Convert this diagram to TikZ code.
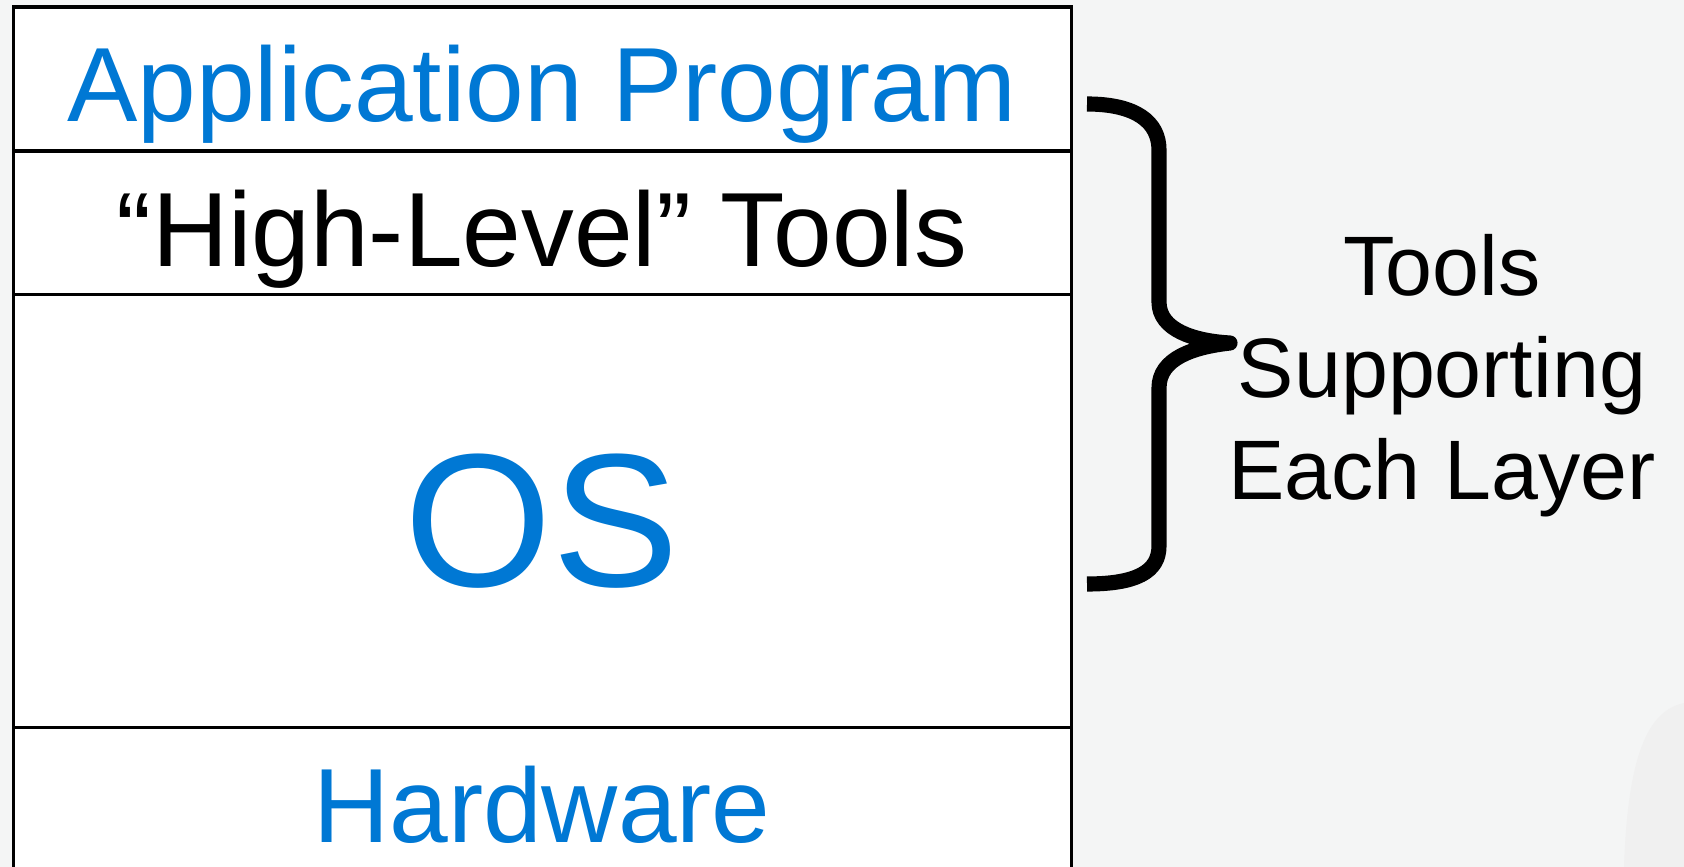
\documentclass[tikz,border=0pt]{standalone}
\usepackage{fontspec}
\setmainfont{Liberation Sans}
\usetikzlibrary{positioning}
\definecolor{layerblue}{RGB}{0,120,212}
\definecolor{slidebg}{RGB}{244,245,245}
\tikzset{
  layer/.style={draw=black,line width=0.9pt,fill=white,minimum width=10.57cm,outer sep=0pt,inner sep=0pt},
  bigtext/.style={font=\fontsize{30}{36}\selectfont,inner sep=0pt,anchor=base},
}
\begin{document}
\begin{tikzpicture}[x=0.01cm,y=-0.01cm]
\useasboundingbox (0,0) rectangle (1684,867);
\fill[slidebg] (0,0) rectangle (1684,867);
\fill[black!6] (1684,703) .. controls (1652,710) and (1628,745) .. (1624,867) -- (1684,867) -- cycle;
% the layers
\node[layer,minimum height=1.44cm] (app) at (542.5,79) {};
\node[layer,minimum height=1.43cm,below=0pt of app] (hlt) {};
\node[layer,minimum height=4.33cm,below=0pt of hlt] (os) {};
\node[layer,minimum height=1.6cm,below=0pt of os] (hw) {};
\node[bigtext,text=layerblue] (apptxt) at (542,122) {Application Program};
\node[bigtext] (hlttxt) at (542,267) {“High-Level” Tools};
\node[bigtext,text=layerblue,font=\fontsize{54}{60}\selectfont] (ostxt) at (542,587) {OS};
\node[bigtext,text=layerblue] (hwtxt) at (542,842) {Hardware};
% brace
\draw[line width=4.3pt,line join=round]
  (1087,104) .. controls (1136,104) and (1159,122) .. (1159,150) -- (1159,302)
  .. controls (1159,330) and (1194,341) .. (1230,343)
  .. controls (1194,347) and (1159,358) .. (1159,388) -- (1159,546)
  .. controls (1159,572) and (1136,584) .. (1087,584);
\node[align=center,inner sep=0pt,font=\fontsize{24}{29}\selectfont] (tools) at (1442,376) {Tools\\Supporting\\Each Layer};
\end{tikzpicture}
\end{document}
